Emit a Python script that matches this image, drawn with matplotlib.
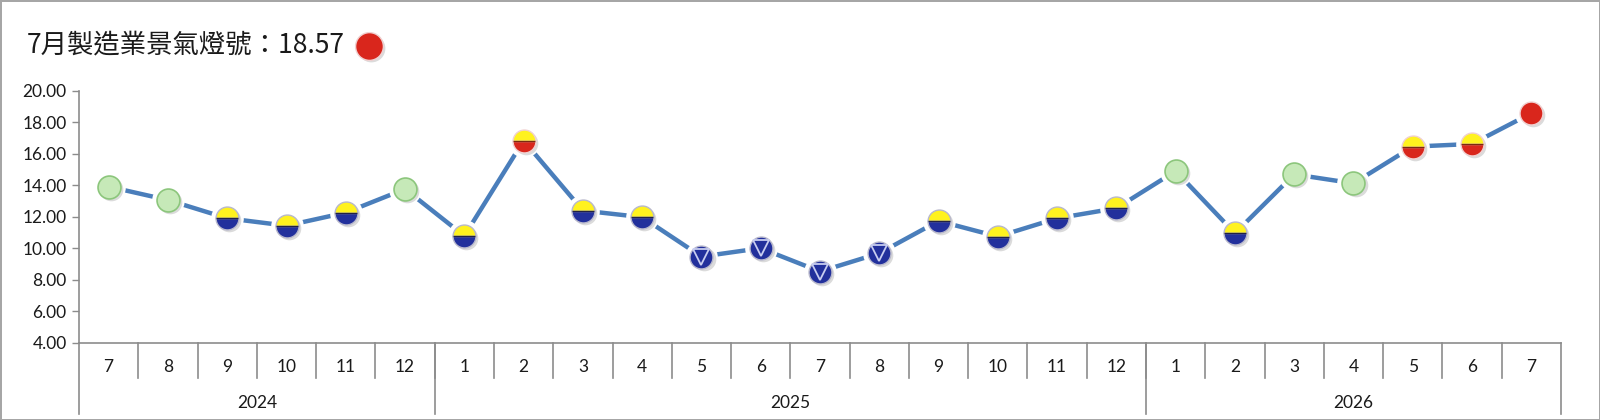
import matplotlib.pyplot as plt
from matplotlib.transforms import offset_copy

# data
months = ["7", "8", "9", "10", "11", "12",
          "1", "2", "3", "4", "5", "6", "7", "8", "9", "10", "11", "12",
          "1", "2", "3", "4", "5", "6", "7"]
years = ["2024", "2025", "2026"]
year_counts = [6, 12, 7]
scores = [13.91, 13.06, 11.90, 11.43, 12.26, 13.76,
          10.78, 16.83, 12.39, 11.97, 9.47, 10.00, 8.52, 9.68, 11.73, 10.74, 11.90, 12.54,
          14.90, 10.95, 14.69, 14.12, 16.45, 16.62, 18.57]
# light signal: G green, YB yellow-blue, YR yellow-red, B blue, R red
signals = ["G", "G", "YB", "YB", "YB", "G",
           "YB", "YR", "YB", "YB", "B", "B", "B", "B", "YB", "YB", "YB", "YB",
           "G", "YB", "G", "G", "YR", "YR", "R"]
title = "7月製造業景氣燈號：18.57"

YELLOW = "#fff21f"
BLUE = "#22309c"
RED = "#d9261c"
GREEN = "#c6e9b8"
GREEN_EDGE = "#8cc67c"
LINE = "#4a7ebb"
AXIS = "#8c8c8c"

plt.rcParams["font.family"] = ["Lato", "DejaVu Sans"]

fig = plt.figure(figsize=(16, 4.2), dpi=100, edgecolor="#a6a6a6", linewidth=2)
ax = fig.add_axes([0.0494, 0.184, 0.9262, 0.6])

x = list(range(len(scores)))
ax.plot(x, scores, color=LINE, lw=3.2, zorder=2, solid_capstyle="butt")

# white halo so the line stops short of each light
ax.plot(x, scores, "o", ms=23.5, mfc="white", mec="none", zorder=3)
# soft shadow
shadow = offset_copy(ax.transData, fig=fig, x=1.5, y=-1.5, units="points")
ax.plot(x, scores, "o", ms=17, mfc="#c4c4c4", mec="none", alpha=0.6,
        transform=shadow, zorder=3)


def pick(code):
    idx = [i for i, s in enumerate(signals) if s == code]
    return idx, [scores[i] for i in idx]


mk = dict(ls="none", marker="o", ms=16.5, zorder=4)

i, v = pick("G")
ax.plot(i, v, mfc=GREEN, mec=GREEN_EDGE, mew=1.2, **mk)

i, v = pick("YB")
ax.plot(i, v, fillstyle="top", mfc=YELLOW, mfcalt=BLUE, mec="#b8b8cc", mew=1.0, **mk)
ax.plot(i, v, ls="none", marker="_", ms=15.5, mec="#222244", mew=1.0, zorder=5)

i, v = pick("YR")
ax.plot(i, v, fillstyle="top", mfc=YELLOW, mfcalt=RED, mec="#f0d0d0", mew=1.0, **mk)
ax.plot(i, v, ls="none", marker="_", ms=15.5, mec="#7a2a10", mew=1.0, zorder=5)

i, v = pick("B")
ax.plot(i, v, mfc=BLUE, mec="#b8b8cc", mew=1.0, **mk)
ax.plot(i, v, ls="none", marker="v", ms=11, mfc="none", mec="#c8cdf0", mew=1.3, zorder=5)

i, v = pick("R")
ax.plot(i, v, mfc=RED, mec="#f0d0d0", mew=1.0, **mk)

# y axis
ax.set_ylim(4, 20)
ax.set_yticks(range(4, 21, 2))
ax.set_yticklabels([f"{t:.2f}" for t in range(4, 21, 2)], fontsize=12.5, color="#1a1a1a")
ax.tick_params(axis="y", length=5, color=AXIS, width=1, pad=4)
ax.set_xlim(-0.5, len(scores) - 0.5)
ax.set_xticks([])
for s in ["top", "right"]:
    ax.spines[s].set_visible(False)
for s in ["left", "bottom"]:
    ax.spines[s].set_color(AXIS)
    ax.spines[s].set_linewidth(1.2)

# two-level category axis
tr = ax.get_xaxis_transform()
for k, m in enumerate(months):
    ax.text(k, -0.095, m, transform=tr, ha="center", va="center", fontsize=12.5,
            color="#1a1a1a")
for k in range(1, len(months)):
    ax.plot([k - 0.5, k - 0.5], [0, -0.14], transform=tr, color=AXIS, lw=1.2,
            clip_on=False)
start = 0
bounds = [-0.5]
for yr, n in zip(years, year_counts):
    ax.text(start + (n - 1) / 2, -0.24, yr, transform=tr, ha="center", va="center",
            fontsize=12.5, color="#1a1a1a")
    start += n
    bounds.append(start - 0.5)
for b in bounds:
    ax.plot([b, b], [0, -0.283], transform=tr, color=AXIS, lw=1.2, clip_on=False)

# title with current light
fig.text(0.0165, 0.892, title, fontsize=19, va="center", ha="left",
         family=["Noto Sans CJK TC", "DejaVu Sans"], color="#1a1a1a")
fig_shadow = offset_copy(fig.transFigure, fig=fig, x=1.5, y=-1.5, units="points")
fig.add_artist(plt.Line2D([0.2305], [0.89], marker="o", ms=20, mfc="#c4c4c4",
                          mec="none", alpha=0.6, transform=fig_shadow))
fig.add_artist(plt.Line2D([0.2305], [0.89], marker="o", ms=20, mfc=RED,
                          mec="#f0d0d0", mew=1.0, transform=fig.transFigure))

fig.savefig("out.png", dpi=100)
